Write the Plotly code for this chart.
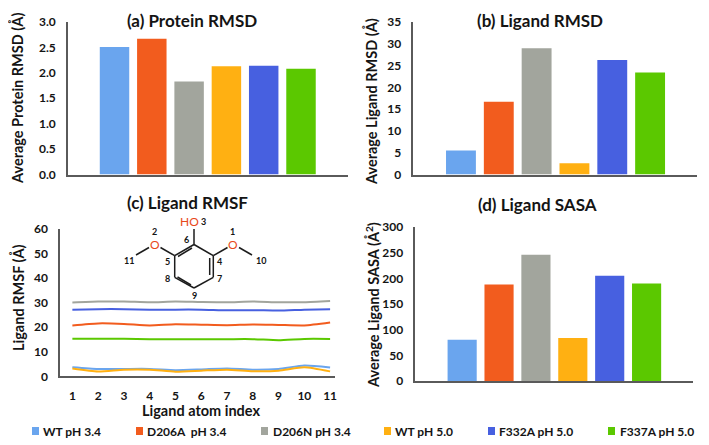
import plotly.graph_objects as go

W, H = 709, 445
FONT = "Lato"
INK = "#141414"
AXIS = "#5a5a5a"
BODY = 8  # the page's own margin round the plot

series_names = ["WT pH 3.4", "D206A  pH 3.4", "D206N pH 3.4", "WT pH 5.0", "F332A pH 5.0", "F337A pH 5.0"]
series_colors = ["#6AA5EE", "#F25C1E", "#A2A59D", "#FFB012", "#4760E0", "#5BC800"]

protein_rmsd = [2.51, 2.67, 1.83, 2.13, 2.14, 2.08]
ligand_rmsd = [5.5, 16.7, 29.0, 2.6, 26.3, 23.4]
ligand_sasa = [80.5, 188, 246, 84, 205, 190]

atom_index = [1, 2, 3, 4, 5, 6, 7, 8, 9, 10, 11]
rmsf_wt34 = [3.7, 3.0, 3.0, 3.0, 2.5, 2.8, 3.2, 2.7, 3.0, 4.4, 3.6]
rmsf_d206a = [20.7, 21.5, 21.3, 20.7, 21.2, 21.0, 20.8, 21.1, 20.9, 20.7, 21.9]
rmsf_d206n = [30.0, 30.4, 30.4, 30.1, 30.4, 30.2, 30.1, 30.4, 30.1, 30.1, 30.6]
rmsf_wt50 = [3.2, 2.0, 2.7, 2.7, 1.9, 2.3, 2.7, 2.1, 2.3, 3.7, 2.0]
rmsf_f332a = [27.1, 27.3, 27.3, 27.1, 27.1, 27.1, 26.8, 26.9, 26.7, 27.1, 27.3]
rmsf_f337a = [15.3, 15.3, 15.3, 15.1, 15.1, 15.1, 15.1, 15.1, 14.7, 15.2, 15.2]
rmsf_all = [rmsf_wt34, rmsf_d206a, rmsf_d206n, rmsf_wt50, rmsf_f332a, rmsf_f337a]


def px(x):
    return (x - BODY) / W


def py(y):
    return 1 - (y - BODY) / H


fig = go.Figure()


def style_axes(name_x, name_y, box, xrange, yrange, dtick, fmt, show_x=False):
    l, r, t, b = box
    fig.layout[name_x] = dict(
        domain=[px(l), px(r)], range=xrange, anchor=name_y.replace("axis", ""),
        showgrid=False, zeroline=False, showline=True, linecolor=AXIS, linewidth=1.5,
        showticklabels=show_x, ticks="outside" if show_x else "", ticklen=8, tickcolor="rgba(0,0,0,0)",
        tickmode="array", tickvals=atom_index if show_x else [],
        tickfont=dict(family=FONT, size=12, color=INK, weight="bold"),
    )
    fig.layout[name_y] = dict(
        domain=[py(b), py(t)], range=yrange, anchor=name_x.replace("axis", ""),
        showgrid=False, zeroline=False, showline=True, linecolor=AXIS, linewidth=1.5,
        ticks="outside", ticklen=8, tickcolor="rgba(0,0,0,0)", dtick=dtick, tick0=0, tickformat=fmt,
        tickfont=dict(family=FONT, size=12, color=INK, weight="bold"),
    )


def add_bars(values, n):
    suffix = "" if n == 1 else str(n)
    for i, v in enumerate(values):
        fig.add_trace(go.Bar(
            x=[i], y=[v], width=0.79, name=series_names[i], marker=dict(color=series_colors[i], line_width=0),
            xaxis="x" + suffix, yaxis="y" + suffix, showlegend=False,
        ))


add_bars(protein_rmsd, 1)
style_axes("xaxis", "yaxis", (68, 348, 22, 174.5), [-1.247, 6.26], [0, 3], 0.5, ".1f")

add_bars(ligand_rmsd, 2)
style_axes("xaxis2", "yaxis2", (413.3, 697, 22, 174.5), [-1.26, 6.24], [0, 35], 5, "d")

for i, vals in enumerate(rmsf_all):
    fig.add_trace(go.Scatter(
        x=atom_index, y=vals, mode="lines", name=series_names[i],
        line=dict(color=series_colors[i], width=2, shape="spline", smoothing=0.6),
        xaxis="x3", yaxis="y3", showlegend=False,
    ))
style_axes("xaxis3", "yaxis3", (60, 335, 228.7, 376.3), [0.52, 11.19], [0, 60], 10, "d", show_x=True)

add_bars(ligand_sasa, 4)
style_axes("xaxis4", "yaxis4", (415.3, 692.7, 227, 381), [-1.27, 6.25], [0, 300], 50, "d")


def text(s, x, y, size=13, color=INK, angle=0, anchor="center", bold=True):
    fig.add_annotation(
        text=s, x=px(x), y=py(y), xref="paper", yref="paper", showarrow=False, textangle=angle,
        xanchor=anchor, yanchor="middle",
        font=dict(family=FONT, size=size, color=color, weight="bold" if bold else "normal"),
    )


# Panel titles
text("(a) Protein RMSD", 192, 20, 17)
text("(b) Ligand RMSD", 540, 20, 17)
text("(c) Ligand RMSF", 187, 202, 17)
text("(d) Ligand SASA", 537, 205, 17)

# Axis titles
text("Average Protein RMSD (Å)", 17, 99, 14.5, angle=-90)
text("Average Ligand RMSD (Å)", 371, 102, 14.5, angle=-90)
text("Ligand RMSF (Å)", 18, 298, 14.5, angle=-90)
text("Average Ligand SASA (Å<sup>2</sup>)", 372, 305, 14.5, angle=-90)
text("Ligand atom index", 201, 410, 14.5)

# Legend
legend_box_x = [32, 136, 261, 384, 488, 608]
legend_text_x = [41, 145, 271, 393, 497, 618]
for i, name in enumerate(series_names):
    text(name, legend_text_x[i], 431, 12, anchor="left")
    fig.add_shape(type="rect", xref="paper", yref="paper", line_width=0, fillcolor=series_colors[i],
                  x0=px(legend_box_x[i]), x1=px(legend_box_x[i] + 7),
                  y0=py(435), y1=py(427))

# Molecule diagram (2,6-dimethoxyphenol)
bonds = [
    (194, 244.5, 213.3, 255.7), (213.3, 255.7, 213.3, 277.3), (213.3, 277.3, 194, 288),
    (194, 288, 174.7, 277.3), (174.7, 277.3, 174.7, 255.7), (174.7, 255.7, 194, 244.5),
    (209.7, 258, 209.7, 275), (191, 285, 177.5, 277), (178, 256.5, 192, 248),
    (194, 244.5, 194, 229), (174.7, 255.7, 160.5, 247.5), (213.3, 255.7, 227.5, 247.5),
    (149, 247.5, 136, 255), (239, 247.5, 252, 255),
]
for x0, y0, x1, y1 in bonds:
    fig.add_shape(type="line", xref="paper", yref="paper", x0=px(x0), y0=py(y0), x1=px(x1), y1=py(y1),
                  line=dict(color="#1c1c1c", width=1.5))

OXY = "#E8481A"
text("O", 155, 244.5, 12, OXY, bold=False)
text("O", 233, 244.5, 12, OXY, bold=False)
text("HO", 189, 221.5, 12, OXY, bold=False)
atom_labels = [("3", 203, 221.5), ("2", 154, 231), ("1", 232.5, 231), ("6", 186.5, 239), ("11", 129, 260),
               ("10", 261, 260), ("5", 167, 261), ("4", 220, 261), ("8", 167, 278), ("7", 220, 278), ("9", 194, 295)]
for s, x, y in atom_labels:
    text(s, x, y, 9)

fig.update_layout(
    width=W, height=H, autosize=False, margin=dict(l=0, r=0, t=0, b=0, autoexpand=False),
    paper_bgcolor="white", plot_bgcolor="white", showlegend=False, barmode="overlay",
    font=dict(family=FONT, color=INK),
)
fig.write_html("out.html", config={"displayModeBar": False})
